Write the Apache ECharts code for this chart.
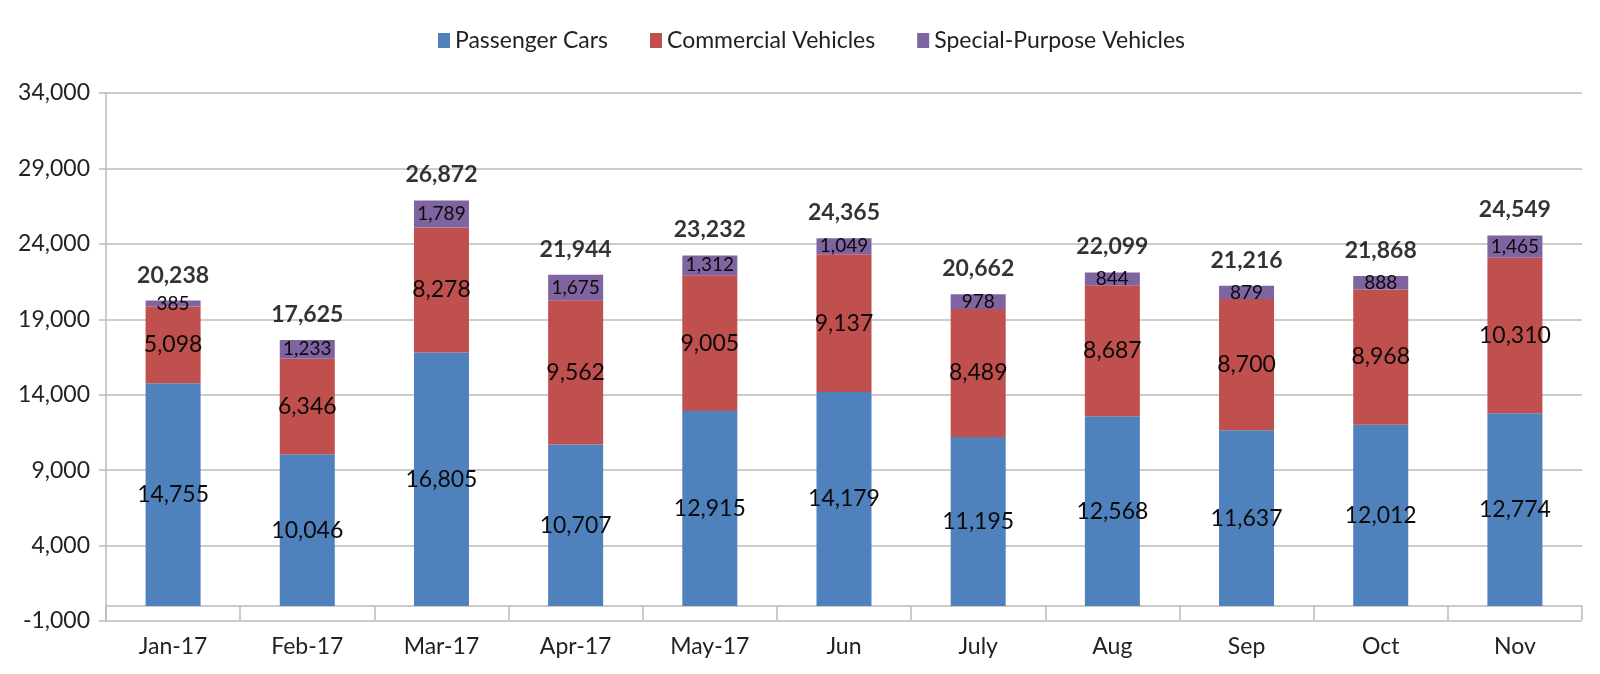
<!DOCTYPE html>
<html><head><meta charset="utf-8">
<script src="https://cdn.jsdelivr.net/npm/echarts@6/dist/echarts.min.js"></script>
<style>html,body{margin:0;padding:0;background:#fff}#c{width:1600px;height:674px}</style>
</head><body><div id="c"></div>
<script>
const categories = ['Jan-17','Feb-17','Mar-17','Apr-17','May-17','Jun','July','Aug','Sep','Oct','Nov'];
const passengerCars = [14755,10046,16805,10707,12915,14179,11195,12568,11637,12012,12774];
const commercialVehicles = [5098,6346,8278,9562,9005,9137,8489,8687,8700,8968,10310];
const specialPurpose = [385,1233,1789,1675,1312,1049,978,844,879,888,1465];
const totals = [20238,17625,26872,21944,23232,24365,20662,22099,21216,21868,24549];
const yMin = -1000, yMax = 34000, yStep = 5000;

const FONT = 'Lato, "Open Sans", sans-serif';
const fmt = v => Number(v).toLocaleString('en-US');
const chart = echarts.init(document.getElementById('c'));
const segLabel = size => ({
  show: true, position: 'inside', color: '#0a0a0a', fontFamily: FONT, fontSize: size,
  formatter: p => fmt(p.value)
});
chart.setOption({
  animation: false,
  backgroundColor: '#fff',
  color: ['#4F81BD', '#C0504D', '#8064A2'],
  legend: {
    data: ['Passenger Cars', 'Commercial Vehicles', 'Special-Purpose Vehicles'],
    top: 24, left: 433, itemWidth: 12, itemHeight: 15, itemGap: 42,
    icon: 'rect',
    textStyle: { fontFamily: FONT, fontSize: 23, color: '#222' }
  },
  grid: { left: 106, right: 18, top: 93, bottom: 53 },
  xAxis: {
    type: 'category', data: categories,
    axisLine: { show: true, onZero: true, lineStyle: { color: '#BBBBBB', width: 1.5 } },
    axisTick: { show: true, length: 14, lineStyle: { color: '#BBBBBB', width: 1.5 } },
    axisLabel: { margin: 14, fontFamily: FONT, fontSize: 23, color: '#222' }
  },
  yAxis: {
    type: 'value', min: yMin, max: yMax, interval: yStep,
    axisLine: { show: true, lineStyle: { color: '#BBBBBB', width: 1.5 } },
    axisTick: { show: true, length: 7, lineStyle: { color: '#BBBBBB', width: 1.5 } },
    splitLine: { show: true, lineStyle: { color: '#BBBBBB', width: 1.5 } },
    axisLabel: { margin: 16, fontFamily: FONT, fontSize: 23, color: '#222', formatter: fmt }
  },
  series: [
    { name: 'Passenger Cars', type: 'bar', stack: 'a', barWidth: '41%', data: passengerCars, label: segLabel(23) },
    { name: 'Commercial Vehicles', type: 'bar', stack: 'a', data: commercialVehicles, label: segLabel(23) },
    { name: 'Special-Purpose Vehicles', type: 'bar', stack: 'a', data: specialPurpose, label: segLabel(19) },
    { name: 'Total', type: 'scatter', data: totals, symbolSize: 0, itemStyle: { color: 'rgba(0,0,0,0)' },
      label: { show: true, position: 'top', distance: 14, color: '#000', fontFamily: FONT, fontSize: 23, fontWeight: 'bold', formatter: p => fmt(p.value) },
      tooltip: { show: false } }
  ]
});
</script></body></html>
